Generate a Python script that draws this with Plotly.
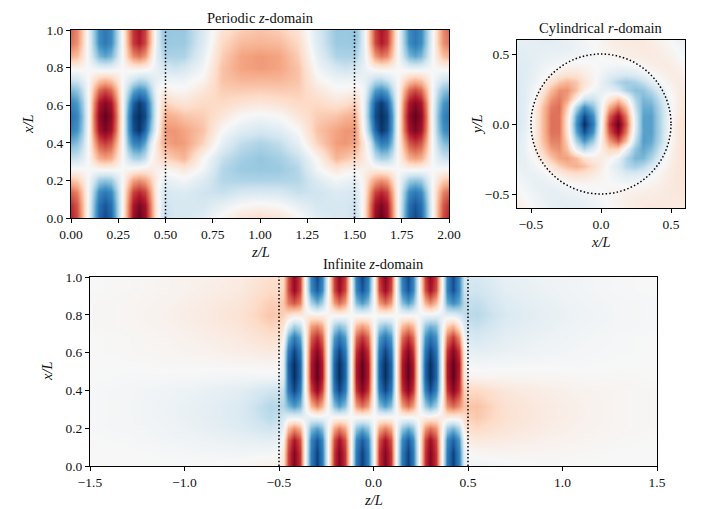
import numpy as np
import plotly.graph_objects as go

W, H = 709, 509
FONT = "Liberation Serif"

RDBU = [[0.0, "#053061"], [0.1, "#2166ac"], [0.2, "#4393c3"], [0.3, "#92c5de"], [0.4, "#d1e5f0"],
        [0.5, "#f7f7f7"], [0.6, "#fddbc7"], [0.7, "#f4a582"], [0.8, "#d6604d"], [0.9, "#b2182b"], [1.0, "#67001f"]]

# shared vertical sample rows for the two rectangular panels
x_rows = [0, .07, .14, .20, .26, .32, .40, .47, .54, .61, .68, .74, .80, .86, .93, 1.0]

# Periodic panel: left half, one list per z position (mirrored about z = 1)
periodic_z = [0, .03, .06, .09, .12, .15, .18, .21, .24, .27, .30, .33, .36, .39, .42, .45, .48, .5, .55, .6, .7, .8, .9, 1.0]
periodic_cols = [
    [78, 74, 58, 30, 2, -24, -48, -68, -74, -66, -46, -20, 3, 36, 54, 58],
    [66, 62, 50, 25, 1, -21, -42, -60, -66, -58, -40, -17, 3, 31, 46, 48],
    [38, 36, 29, 14, 0, -14, -28, -40, -44, -38, -26, -10, 2, 17, 26, 27],
    [-4, -3, -2, -1, 0, 0, 0, -2, -4, -2, 0, 0, -1, -3, -5, -6],
    [-48, -46, -38, -20, 0, 22, 38, 52, 56, 50, 34, 15, -4, -28, -38, -39],
    [-80, -76, -64, -36, 2, 37, 62, 84, 90, 82, 57, 25, -8, -46, -63, -64],
    [-90, -86, -72, -40, 3, 42, 70, 94, 100, 92, 66, 30, -9, -53, -72, -72],
    [-80, -76, -64, -36, 3, 37, 62, 84, 90, 82, 57, 25, -8, -46, -63, -64],
    [-46, -44, -38, -21, 1, 22, 38, 54, 58, 52, 36, 15, -4, -27, -37, -38],
    [0, -1, -1, -1, 0, 2, 4, 3, 3, 2, 1, 0, 0, -1, -1, -1],
    [50, 48, 40, 23, 2, -20, -44, -56, -58, -48, -28, -10, 4, 29, 40, 42],
    [86, 82, 68, 40, 4, -32, -66, -88, -92, -82, -52, -18, 7, 48, 70, 72],
    [100, 94, 76, 46, 6, -34, -70, -98, -100, -96, -62, -26, 8, 54, 80, 82],
    [88, 84, 68, 40, 8, -24, -52, -80, -90, -84, -56, -24, 5, 44, 66, 68],
    [56, 54, 44, 28, 8, -2, -18, -44, -56, -52, -34, -16, 0, 20, 34, 35],
    [12, 10, 8, 7, 5, 10, 10, -6, -10, -10, -5, -8, -7, -10, -8, -8],
    [-17, -14, -12, -6, 5, 20, 32, 30, 23, 16, 5, -6, -15, -25, -32, -34],
    [-23, -21, -17, -9, 4, 23, 40, 44, 37, 23, 6, -6, -17, -32, -38, -39],
    [-17, -17, -15, -6, 6, 29, 44, 44, 34, 17, 2, -6, -21, -32, -37, -38],
    [-17, -17, -14, -3, 12, 34, 42, 40, 29, 14, 2, -6, -17, -31, -37, -38],
    [-12, -17, -20, -14, -3, 2, 23, 29, 25, 20, 12, 3, -3, -9, -14, -15],
    [3, -9, -23, -29, -29, -23, -9, 0, 12, 20, 25, 29, 29, 25, 20, 14],
    [14, 0, -17, -31, -37, -34, -25, -12, 0, 15, 26, 34, 40, 40, 32, 25],
    [18, 3, -16, -31, -38, -39, -31, -17, -3, 12, 25, 34, 43, 43, 34, 29],
]

# Infinite panel: z >= 0 half, one list per z position (odd about z = 0)
infinite_z = [0, .03, .06, .09, .12, .15, .18, .21, .24, .27, .30, .33, .36, .39, .42, .45, .48, .5, .55, .7, .9, 1.1, 1.3, 1.5]
infinite_cols = [
    [0, 0, 0, 0, 0, 0, 0, 0, 0, 0, 0, 0, 0, 0, 0, 0],
    [72, 71, 64, 38, 1, -42, -72, -80, -80, -72, -56, -32, 1, 42, 66, 70],
    [94, 93, 84, 50, 1, -56, -92, -100, -100, -92, -72, -42, 2, 56, 86, 92],
    [72, 71, 64, 38, 1, -42, -72, -80, -80, -72, -56, -32, 1, 42, 66, 70],
    [0, 0, 0, 0, -1, -1, 0, 0, 0, 0, 0, 0, 0, 0, 0, 0],
    [-72, -71, -64, -38, 0, 42, 72, 80, 80, 72, 56, 32, -1, -42, -66, -70],
    [-94, -93, -84, -50, 0, 56, 92, 100, 100, 92, 72, 42, -2, -56, -86, -90],
    [-72, -71, -64, -38, 0, 42, 72, 80, 80, 72, 56, 32, -1, -42, -66, -68],
    [0, 0, 0, 2, 3, 2, 0, 0, 0, 0, 0, -2, -3, -3, 0, 0],
    [72, 71, 66, 42, 6, -36, -68, -80, -80, -72, -58, -38, -6, 34, 64, 68],
    [94, 93, 86, 54, 6, -50, -90, -100, -100, -92, -74, -48, -6, 48, 84, 90],
    [72, 71, 66, 44, 8, -34, -68, -80, -80, -74, -60, -42, -8, 32, 64, 68],
    [0, 0, 0, 4, 8, 8, 0, 0, 0, 0, -2, -6, -8, -6, 0, 0],
    [-72, -71, -64, -34, 10, 46, 72, 80, 80, 72, 52, 24, -10, -50, -68, -68],
    [-94, -93, -82, -46, 8, 58, 92, 100, 100, 92, 70, 34, -10, -62, -88, -90],
    [-68, -67, -58, -30, 10, 46, 72, 78, 80, 70, 46, 12, -16, -52, -64, -64],
    [-12, -10, -4, 8, 18, 30, 24, 12, 10, 8, -4, -14, -24, -28, -22, -20],
    [-5, 0, 8, 16, 24, 28, 20, 4, -2, -8, -15, -21, -26, -24, -19, -17],
    [-5, 2, 10, 20, 27, 29, 20, 3, -3, -10, -17, -23, -28, -25, -20, -17],
    [-2, 3, 8, 13, 15, 15, 11, 3, -2, -7, -10, -13, -15, -13, -10, -9],
    [0, 2, 5, 8, 9, 9, 7, 2, -1, -4, -6, -8, -9, -8, -6, -5],
    [0, 1, 3, 4, 5, 5, 4, 1, -1, -2, -3, -4, -5, -4, -3, -3],
    [0, 0, 1, 2, 2, 2, 2, 1, 0, -1, -1, -2, -2, -2, -1, -1],
    [0, 0, 0, 1, 1, 1, 1, 0, 0, 0, 0, -1, -1, -1, 0, 0],
]

# Cylindrical panel: rows for y >= 0 (point-antisymmetric about the centre)
cyl_x = [-.6, -.54, -.48, -.42, -.36, -.30, -.24, -.18, -.12, -.06, 0, .06, .12, .18, .24, .30, .36, .42, .48, .54, .6]
cyl_y = [0, .06, .12, .18, .24, .30, .36, .42, .48, .54, .6]
cyl_rows = [
    [-17, -10, 5, 30, 55, 55, 12, -60, -100, -70, 0, 70, 100, 60, -12, -55, -55, -30, -5, 10, 17],
    [-16, -10, 5, 30, 55, 54, 15, -52, -90, -62, -3, 60, 88, 52, -14, -54, -55, -30, -6, 8, 15],
    [-15, -10, 4, 28, 52, 56, 25, -30, -62, -42, -6, 36, 58, 32, -22, -50, -50, -28, -6, 6, 13],
    [-15, -11, 0, 20, 44, 52, 40, 8, -22, -22, -6, 12, 28, 8, -30, -46, -42, -22, -5, 6, 12],
    [-15, -11, -3, 10, 32, 46, 46, 30, 8, -4, -8, -8, -16, -32, -42, -40, -28, -12, 0, 7, 10],
    [-15, -11, -6, 2, 16, 28, 34, 28, 14, 4, -8, -18, -30, -36, -32, -24, -12, -2, 4, 8, 8],
    [-14, -12, -8, -3, 3, 10, 14, 14, 8, 2, -4, -10, -14, -16, -13, -7, -1, 4, 7, 7, 4],
    [-13, -12, -9, -6, -3, 0, 2, 3, 2, 0, -1, -2, -3, -2, 0, 3, 6, 8, 8, 5, 1],
    [-12, -11, -10, -8, -7, -6, -5, -4, -3, -2, 0, 2, 3, 5, 6, 8, 9, 8, 6, 2, -2],
    [-11, -10, -10, -10, -9, -9, -8, -6, -4, -1, 2, 5, 7, 8, 9, 10, 9, 6, 3, -1, -5],
    [-9, -9, -10, -11, -11, -10, -8, -6, -3, 0, 3, 6, 9, 10, 10, 10, 8, 4, 1, -4, -8],
]

periodic_bounds = [0.5, 1.5]
infinite_bounds = [-0.5, 0.5]
disk_radius = 0.5

# assemble the full grids from the typed halves
pc = np.array(periodic_cols, float)
per_z = np.r_[periodic_z, 2 - np.array(periodic_z)[-2::-1]]
per_grid = np.vstack([pc, pc[-2::-1]]).T

ic = np.array(infinite_cols, float)
inf_z = np.r_[-np.array(infinite_z)[:0:-1], infinite_z]
inf_grid = np.vstack([-ic[:0:-1], ic]).T

cr = np.array(cyl_rows, float)
cy_y = np.r_[-np.array(cyl_y)[:0:-1], cyl_y]
cy_grid = np.vstack([-cr[:0:-1, ::-1], cr])

fig = go.Figure()
common = dict(colorscale=RDBU, zmin=-100, zmax=100, zsmooth="best", showscale=False, hoverinfo="skip")
fig.add_trace(go.Heatmap(x=per_z, y=x_rows, z=per_grid, xaxis="x", yaxis="y", **common))
fig.add_trace(go.Heatmap(x=cyl_x, y=cy_y, z=cy_grid, xaxis="x2", yaxis="y2", **common))
fig.add_trace(go.Heatmap(x=inf_z, y=x_rows, z=inf_grid, xaxis="x3", yaxis="y3", **common))

dotted = dict(color="black", width=1.5, dash="1.5px,2.2px")
for z in periodic_bounds:
    fig.add_shape(type="line", xref="x", yref="y", x0=z, x1=z, y0=0, y1=1, line=dotted)
for z in infinite_bounds:
    fig.add_shape(type="line", xref="x3", yref="y3", x0=z, x1=z, y0=0, y1=1, line=dotted)
fig.add_shape(type="circle", xref="x2", yref="y2", x0=-disk_radius, x1=disk_radius,
              y0=-disk_radius, y1=disk_radius, line=dotted)

def dom(a, b, total):
    return [a / total, b / total]

axis = dict(showgrid=False, zeroline=False, showline=True, mirror=True, linecolor="black", linewidth=1,
            ticks="outside", ticklen=4, tickwidth=1, tickcolor="black", layer="above traces",
            automargin=False, tickfont=dict(family=FONT, size=13.5, color="#111"))

fig.update_layout(
    width=W, height=H, margin=dict(l=0, r=0, t=0, b=0), paper_bgcolor="white", plot_bgcolor="white",
    font=dict(family=FONT, size=13, color="#111"), showlegend=False,
    xaxis=dict(axis, domain=dom(71, 449, W), range=[0, 2], tickvals=[0, .25, .5, .75, 1, 1.25, 1.5, 1.75, 2],
               ticktext=["0.00", "0.25", "0.50", "0.75", "1.00", "1.25", "1.50", "1.75", "2.00"]),
    yaxis=dict(axis, domain=[1 - 218 / H, 1 - 30 / H], range=[0, 1], tickvals=[0, .2, .4, .6, .8, 1],
               ticktext=["0.0", "0.2", "0.4", "0.6", "0.8", "1.0"]),
    xaxis2=dict(axis, anchor="y2", domain=dom(517, 685, W), range=[-.6, .6], tickvals=[-.5, 0, .5],
                ticktext=["\u22120.5", "0.0", "0.5"]),
    yaxis2=dict(axis, anchor="x2", domain=[1 - 208 / H, 1 - 40 / H], range=[-.6, .6], tickvals=[-.5, 0, .5],
                ticktext=["\u22120.5", "0.0", "0.5"]),
    xaxis3=dict(axis, anchor="y3", domain=dom(90, 657, W), range=[-1.5, 1.5], tickvals=[-1.5, -1, -.5, 0, .5, 1, 1.5],
                ticktext=["\u22121.5", "\u22121.0", "\u22120.5", "0.0", "0.5", "1.0", "1.5"]),
    yaxis3=dict(axis, anchor="x3", domain=[1 - 466 / H, 1 - 277 / H], range=[0, 1], tickvals=[0, .2, .4, .6, .8, 1],
                ticktext=["0.0", "0.2", "0.4", "0.6", "0.8", "1.0"]),
)

def label(text, px, py, angle=0, size=14.5):
    fig.add_annotation(text=text, xref="paper", yref="paper", x=px / W, y=1 - py / H, xanchor="center",
                       yanchor="middle", showarrow=False, textangle=angle,
                       font=dict(family=FONT, size=size, color="#111"))

label("Periodic <i>z</i>-domain", 260, 18)
label("Cylindrical <i>r</i>-domain", 601, 28)
label("Infinite <i>z</i>-domain", 374, 264)
label("<i>z/L</i>", 260, 252)
label("<i>x/L</i>", 601, 242)
label("<i>z/L</i>", 374, 500)
label("<i>x/L</i>", 28, 124, -90)
label("<i>y/L</i>", 477, 124, -90)
label("<i>x/L</i>", 47, 371, -90)

fig.write_html("out.html", post_script="document.body.style.margin='0';", config=dict(displayModeBar=False))
